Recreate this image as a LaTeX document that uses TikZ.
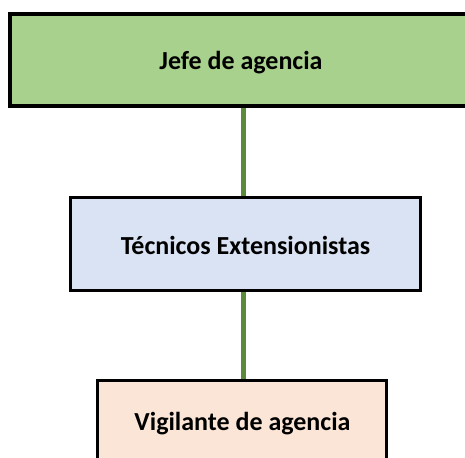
\documentclass[tikz,border=0pt]{standalone}
\usepackage{fontspec}
\setmainfont{Carlito}
\usetikzlibrary{backgrounds}
\definecolor{gfill}{HTML}{A9D18E}
\definecolor{bfill}{HTML}{DAE3F3}
\definecolor{pfill}{HTML}{FBE5D6}
\definecolor{glink}{HTML}{5A8A3A}
\begin{document}
\begin{tikzpicture}[x=1pt,y=-1pt,
  box/.style={draw=black,rectangle,inner sep=0pt},
  link/.style={draw=glink,line width=5.5pt},
  lbl/.style={inner sep=0pt,font=\bfseries\fontsize{26}{30}\selectfont}]
\useasboundingbox (0,0) rectangle (465,457);
\node[box,fill=gfill,line width=4.5pt,minimum width=460pt,minimum height=92pt] (top) at (240,60) {};
\node[lbl] (toplbl) at (241,63) {Jefe de agencia};
\node[box,fill=bfill,line width=3pt,minimum width=350pt,minimum height=93pt] (mid) at (245.5,244) {};
\node[lbl] (midlbl) at (245.5,245.5) {Técnicos Extensionistas};
\node[box,fill=pfill,line width=3pt,minimum width=289pt,minimum height=120pt] (bot) at (242,440.5) {};
\node[lbl] (botlbl) at (242.5,424) {Vigilante de agencia};
\coordinate (spine) at (243.5,0);
\begin{scope}[on background layer]
\draw[link] (top.south -| spine) -- (mid.north -| spine);
\draw[link] (mid.south -| spine) -- (bot.north -| spine);
\end{scope}
\end{tikzpicture}
\end{document}
